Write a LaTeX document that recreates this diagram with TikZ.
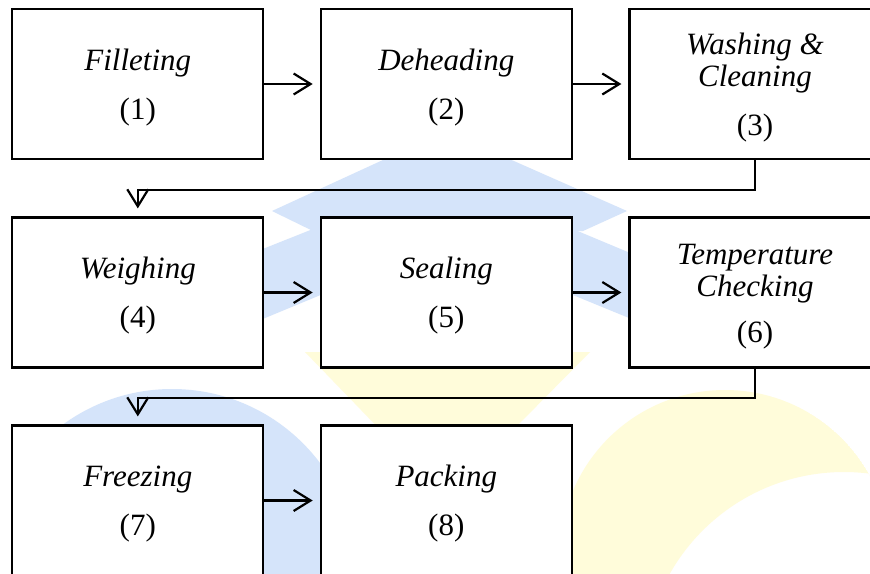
\documentclass[tikz,border=0pt]{standalone}
\usepackage{fontspec}
\setmainfont{Liberation Serif}
\usetikzlibrary{arrows.meta}
\definecolor{wblue}{RGB}{213,228,250}
\definecolor{wyellow}{RGB}{255,252,218}
\newcommand{\topstrut}{\rule{0pt}{28pt}}
\begin{document}
\begin{tikzpicture}[x=1pt,y=-1pt,
  stepbox/.style={draw=black, line width=2.2pt, fill=white, minimum width=251pt,
    minimum height=150pt, inner sep=0pt, align=center,
    font=\fontsize{31}{32}\selectfont},
  arr/.style={line width=2.2pt, -{Straight Barb[length=17pt,width=21pt,line width=2.2pt]}, shorten >=7pt},
  turn/.style={arr, shorten >=8pt}]
\useasboundingbox (0,0) rectangle (870,573);
\fill[white] (0,0) rectangle (870,573);
\clip (0,0) rectangle (870,573);
% watermark
\fill[wblue] (272,211) -- (446,131) -- (627,211) -- (583,231) -- (315,232) -- cycle;
\fill[wblue] (200,274) -- (446,176) -- (690,278) -- (690,343) -- (446,243) -- (200,345) -- cycle;
\begin{scope}
  \clip (14,300) rectangle (870,600);
  \fill[wblue] (172,574) circle[radius=185];
\end{scope}
\fill[wyellow] (305,352) -- (590,352) -- (446,498) -- cycle;
\begin{scope}
  \clip (725,555) circle[radius=165];
  \fill[wyellow, even odd rule] (725,555) circle[radius=165] (844,672) circle[radius=200];
\end{scope}
% boxes
\node[stepbox] (b1) at (137.8,84) {\topstrut\textit{Filleting}\\[17pt](1)};
\node[stepbox] (b2) at (446.3,84) {\topstrut\textit{Deheading}\\[17pt](2)};
\node[stepbox] (b3) at (755,84) {\topstrut\textit{Washing \&}\\\textit{Cleaning}\\[17pt](3)};
\node[stepbox] (b4) at (137.8,292.5) {\topstrut\textit{Weighing}\\[17pt](4)};
\node[stepbox] (b5) at (446.3,292.5) {\topstrut\textit{Sealing}\\[17pt](5)};
\node[stepbox] (b6) at (755,292.5) {\topstrut\textit{Temperature}\\\textit{Checking}\\[14pt](6)};
\node[stepbox] (b7) at (137.8,500.5) {\topstrut\textit{Freezing}\\[17pt](7)};
\node[stepbox] (b8) at (446.3,500.5) {\topstrut\textit{Packing}\\[17pt](8)};
% connectors
\draw[arr] (b1.east) -- (b2.west);
\draw[arr] (b2.east) -- (b3.west);
\draw[arr] (b4.east) -- (b5.west);
\draw[arr] (b5.east) -- (b6.west);
\draw[arr] (b7.east) -- (b8.west);
\draw[turn] (b3.south) -- ++(0,29.5) -| (b4.north);
\draw[turn] (b6.south) -- ++(0,29.5) -| (b7.north);
\end{tikzpicture}
\end{document}
